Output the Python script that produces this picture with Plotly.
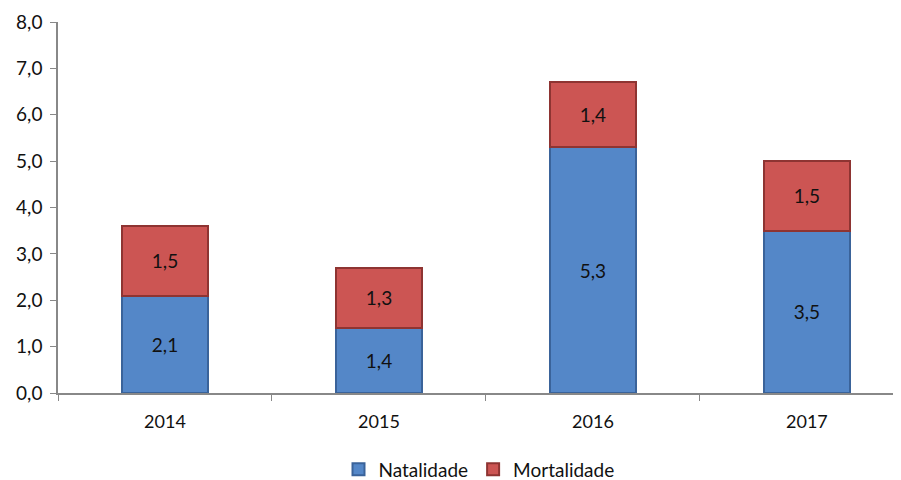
import plotly.graph_objects as go

years = ["2014", "2015", "2016", "2017"]
natalidade = [2.1, 1.4, 5.3, 3.5]
mortalidade = [1.5, 1.3, 1.4, 1.5]
y_ticks = [0, 1, 2, 3, 4, 5, 6, 7, 8]

font_family = "Lato, Open Sans, sans-serif"

fig = go.Figure()
fig.add_trace(go.Bar(
    x=years, y=natalidade, name="Natalidade",
    marker=dict(color="#5487C8", line=dict(color="#3A639A", width=2)),
    text=[f"{v:.1f}".replace(".", ",") for v in natalidade],
    textposition="inside", insidetextanchor="middle",
    textfont=dict(color="#111111", size=19, family=font_family),
    width=0.4,
))
fig.add_trace(go.Bar(
    x=years, y=mortalidade, name="Mortalidade",
    marker=dict(color="#CC5553", line=dict(color="#8E3432", width=2)),
    text=[f"{v:.1f}".replace(".", ",") for v in mortalidade],
    textposition="inside", insidetextanchor="middle",
    textfont=dict(color="#111111", size=19, family=font_family),
    width=0.4,
))

# page has an 8px body margin, so margins are shifted accordingly
fig.update_layout(
    barmode="stack",
    width=901, height=480,
    margin=dict(l=50, r=9, t=14, b=95, autoexpand=False),
    paper_bgcolor="white", plot_bgcolor="white",
    separators=",.",
    font=dict(family=font_family, size=18, color="#111111"),
    showlegend=True,
    legend=dict(orientation="h", x=0.5, xanchor="center", y=-0.155, yanchor="top",
                font=dict(size=19, family=font_family), traceorder="normal"),
    uniformtext=dict(mode="show", minsize=10),
)
fig.update_xaxes(
    range=[-0.5, 3.435], showline=True, linecolor="#888888", linewidth=1.5,
    ticks="outside", tickson="boundaries", ticklen=6, tickcolor="#888888",
    showgrid=False, tickfont=dict(size=18, family=font_family, color="#111111"),
    automargin=False, ticklabelstandoff=12,
)
fig.update_yaxes(
    range=[0, 8], tickvals=y_ticks, tickformat=".1f",
    showline=True, linecolor="#888888", linewidth=1.5,
    ticks="outside", ticklen=6, tickcolor="#888888",
    showgrid=False, zeroline=False,
    tickfont=dict(size=19, family=font_family, color="#111111"),
    automargin=False, ticklabelstandoff=4,
)

fig.write_html("out.html")
